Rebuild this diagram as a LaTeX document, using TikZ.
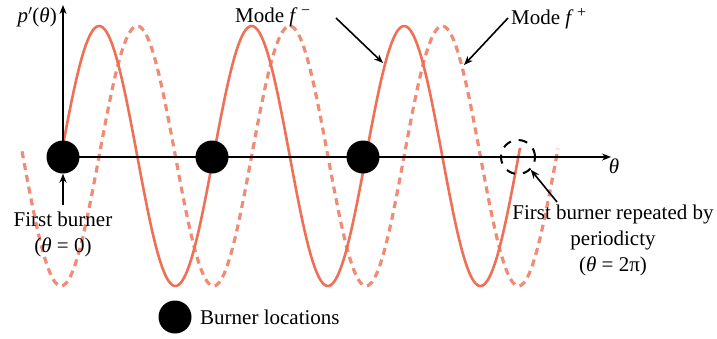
\documentclass[tikz,border=0pt]{standalone}
\usepackage{fontspec}
\setmainfont{Liberation Serif}
\usetikzlibrary{arrows.meta}
\definecolor{wave}{RGB}{238,112,86}
\definecolor{wavedash}{RGB}{240,140,118}
\newcommand{\supsign}[1]{\raisebox{0.7ex}{\fontsize{16}{16}\selectfont #1}}
\tikzset{
  lbl/.style={font=\fontsize{21}{26}\selectfont, inner sep=0pt, align=center},
  burner/.style={circle, fill=black, minimum size=33pt, inner sep=0pt},
  solidwave/.style={wave, line width=2.6pt},
  dashwave/.style={wavedash, line width=3.2pt, dash pattern=on 7pt off 5pt},
  axisline/.style={black, line width=1.6pt, -{Stealth[length=9pt,width=7pt]}},
  pointer/.style={black, line width=1.6pt, -{Stealth[length=9pt,width=7pt]}},
}
\begin{document}
\begin{tikzpicture}[x=1pt,y=-1pt]
\useasboundingbox (0,0) rectangle (717,338);
% waves
\draw[dashwave] plot[domain=22:558, samples=300, smooth] (\x, {156+130*cos(((\x-61)/152.5)*360)});
\draw[solidwave] plot[domain=61:520, samples=300, smooth] (\x, {156-130*sin(((\x-61)/152.5)*360)});
% axes
\coordinate (o) at (63,157);
\coordinate (xend) at (611,157);
\coordinate (yend) at (63,5);
\draw[axisline] (o) -- (xend);
\draw[axisline] (o) -- (yend);
\node[lbl, anchor=east] (ylab) at (57,17) {\textit{p}$^{\prime}$(\textit{θ})};
\node[lbl] (xlab) at (614,166) {\textit{θ}};
% burners
\node[burner] (b1) at (63,157) {};
\node[burner] (b2) at (212,157) {};
\node[burner] (b3) at (363,157) {};
\node[circle, draw=black, line width=2pt, dash pattern=on 9pt off 8pt, minimum size=34pt, inner sep=0pt] (b4) at (518,157) {};
% labels
\node[lbl] (fb) at (63,234) {First burner\\(\textit{θ} = 0)};
\coordinate (fbt) at (63,205);
\draw[pointer] (fbt) -- (b1.south);
\node[lbl, anchor=base west] (mminus) at (235,22) {Mode \textit{f}\,\supsign{−}};
\coordinate (mma) at (336,18);
\coordinate (mmb) at (383,63);
\draw[pointer] (mma) -- (mmb);
\node[lbl, anchor=base west] (mplus) at (511,24) {Mode \textit{f}\,\supsign{+}};
\coordinate (mpa) at (508,18);
\coordinate (mpb) at (464,65);
\draw[pointer] (mpa) -- (mpb);
\node[lbl] (rep) at (613,240) {First burner repeated by\\periodicty\\(\textit{θ} = 2π)};
\coordinate (repa) at (557,202);
\draw[pointer] (repa) -- (b4.south east);
% legend
\node[burner] (leg) at (175,317) {};
\node[lbl, anchor=west] (legt) at (200,317) {Burner locations};
\end{tikzpicture}
\end{document}
